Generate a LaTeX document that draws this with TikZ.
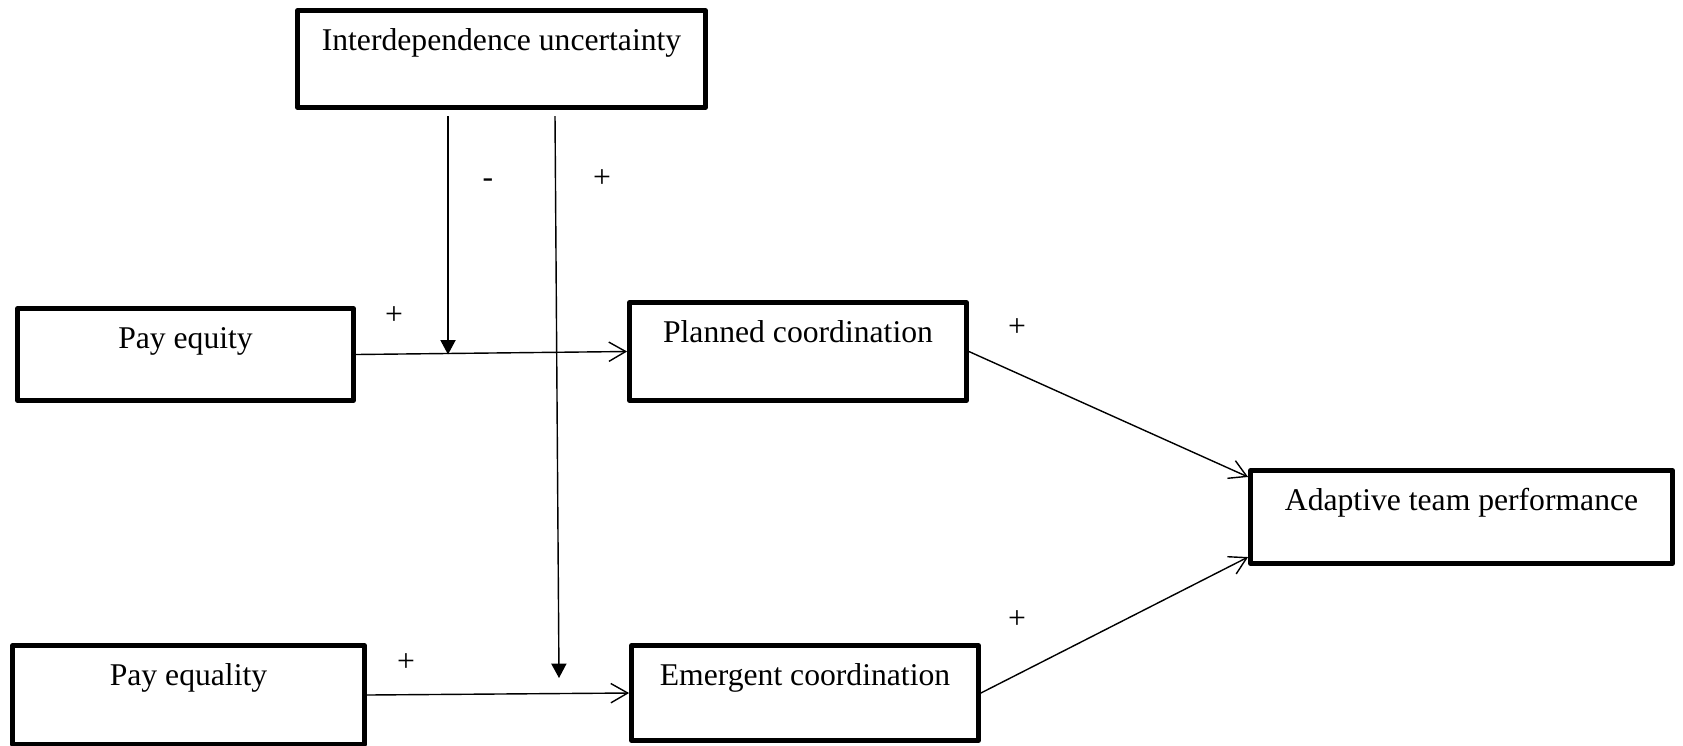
\documentclass[tikz,border=0pt]{standalone}
\usepackage{fontspec}
\setmainfont{Liberation Serif}
\usetikzlibrary{arrows.meta, positioning, calc}

\begin{document}
\begin{tikzpicture}[x=0.01cm, y=-0.01cm,
    box/.style={draw, line width=1.3pt, line join=round, inner sep=0pt},
    txt/.style={inner sep=0pt, anchor=base, font=\fontsize{9pt}{11pt}\selectfont},
    sign/.style={inner sep=0pt, font=\fontsize{9pt}{11pt}\selectfont},
    link/.style={line width=0.4pt, -{Straight Barb[length=4.8pt, width=5.5pt]}},
    moder/.style={line width=0.4pt, -{Triangle[length=4.1pt, width=4.3pt]}}]
  \useasboundingbox (0,0) rectangle (1683,745);
  \clip (0,0) rectangle (1683,745);
  % Boxes
  \node[box, minimum width=4.08cm, minimum height=0.97cm] (iu) at (501.5,59) {};
  \node[box, minimum width=3.36cm, minimum height=0.92cm] (pe) at (185.5,354.5) {};
  \node[box, minimum width=3.37cm, minimum height=0.98cm] (pc) at (798,351.5) {};
  \node[box, minimum width=4.22cm, minimum height=0.93cm] (atp) at (1461.5,517) {};
  \node[box, minimum width=3.52cm, minimum height=0.99cm] (peq) at (188.5,695) {};
  \node[box, minimum width=3.47cm, minimum height=0.95cm] (ec) at (805,693) {};
  % Box texts, near the top of each box
  \node[txt] (iu-t) at ([yshift=-0.42cm]iu.north) {Interdependence uncertainty};
  \node[txt] (pe-t) at ([yshift=-0.42cm]pe.north) {Pay equity};
  \node[txt] (pc-t) at ([yshift=-0.42cm]pc.north) {Planned coordination};
  \node[txt] (atp-t) at ([yshift=-0.42cm]atp.north) {Adaptive team performance};
  \node[txt] (peq-t) at ([yshift=-0.42cm]peq.north) {Pay equality};
  \node[txt] (ec-t) at ([yshift=-0.42cm]ec.north) {Emergent coordination};
  % Main paths
  \draw[link] (pe.east) -- (pc.west);
  \draw[link] (peq.east) -- (ec.west);
  \draw[link] (pc.east) -- ([yshift=0.4cm]atp.west);
  \draw[link] (ec.east) -- ([yshift=-0.4cm]atp.west);
  % Moderation by interdependence uncertainty
  \coordinate (m1) at (448,116);
  \coordinate (m2) at (555,116);
  \coordinate (m2e) at (559,678);
  \draw[moder] (m1) -- (m1 |- pe.east);
  \draw[moder] (m2) -- (m2e);
  % Signs
  \node[sign] (s-m1) at (488,183) {-};
  \node[sign] (s-m2) at (602,179) {+};
  \node[sign] (s-pe) at (394,316) {+};
  \node[sign] (s-pc) at (1017,328) {+};
  \node[sign] (s-ec) at (1017,620) {+};
  \node[sign] (s-peq) at (406,663) {+};
\end{tikzpicture}
\end{document}
